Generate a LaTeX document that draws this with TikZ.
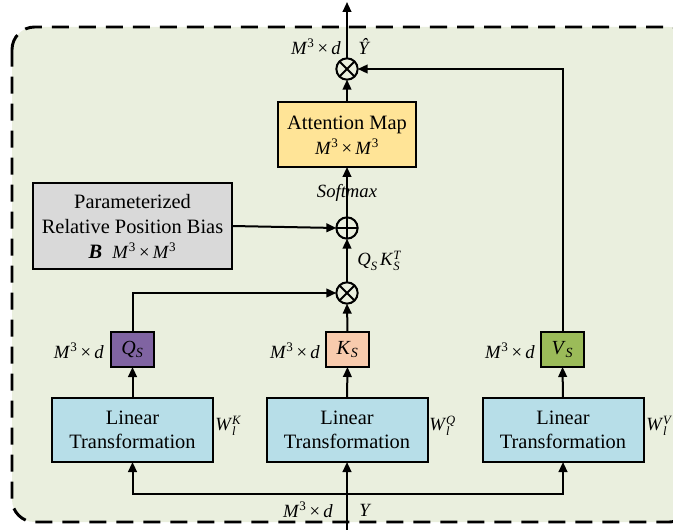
\documentclass[tikz,border=0pt]{standalone}
\usepackage{fontspec}
\setmainfont{Liberation Serif}
\usetikzlibrary{arrows.meta}

\definecolor{panel}{HTML}{EAEFDE}
\definecolor{attnfill}{HTML}{FFE497}
\definecolor{biasfill}{HTML}{D9D9D9}
\definecolor{qfill}{HTML}{8064A2}
\definecolor{kfill}{HTML}{F8CBAD}
\definecolor{vfill}{HTML}{9BBB59}
\definecolor{linfill}{HTML}{B7DEE8}

% italic math-like pieces set in the text font
\newcommand\Mcube{\textit{M}\textsuperscript{3}}
\newcommand\Md{\Mcube\,×\,\textit{d}}
\newcommand\scr{\fontsize{9.5}{10}\selectfont\itshape}
% base letter with a subscript and a superscript stacked above it
\newcommand\subsup[3]{\textit{#1}\rlap{\raisebox{4.4pt}{\scr #3}}\raisebox{-3.4pt}{\scr #2}}
\newcommand\Wsub[1]{\subsup{W}{l}{#1}}

\begin{document}
\begin{tikzpicture}[x=0.75pt,y=-0.75pt,
  boxbase/.style={draw, line width=1.5pt, inner sep=0pt, outer sep=0pt, align=center},
  linbox/.style={boxbase, fill=linfill, minimum width=120.75pt, minimum height=48pt,
    font=\fontsize{15.3}{18}\selectfont},
  smallbox/.style={boxbase, minimum width=32.25pt, minimum height=26.25pt,
    font=\fontsize{15}{18}\selectfont},
  lab/.style={inner sep=0pt, font=\fontsize{14}{16}\selectfont},
  arr/.style={-{Triangle[length=7.5pt,width=6.5pt]}, line width=1.5pt},
  opnode/.style={circle, draw, line width=1.5pt, minimum size=16pt, inner sep=0pt,
    outer sep=0pt, fill=panel},
  otimesnode/.style={opnode, path picture={
    \draw[line width=1.5pt] (path picture bounding box.north west) -- (path picture bounding box.south east)
      (path picture bounding box.north east) -- (path picture bounding box.south west);}},
  oplusnode/.style={opnode, path picture={
    \draw[line width=1.5pt] (path picture bounding box.north) -- (path picture bounding box.south)
      (path picture bounding box.west) -- (path picture bounding box.east);}},
  frame/.style={draw, fill=panel, line width=2.2pt, dash pattern=on 12.75pt off 7.5pt,
    rounded corners=17pt}
]
\useasboundingbox (0,0) rectangle (673,530);
\clip (0,0) rectangle (673,530);

% module frame
\draw[frame] (12,27) rectangle (692,522);

% linear projections
\node[linbox] (lk) at (132.5,430) {Linear\\Transformation};
\node[linbox] (lq) at (347,430) {Linear\\Transformation};
\node[linbox] (lv) at (563,430) {Linear\\Transformation};
\node[lab, anchor=west] (wk) at (215,426) {\Wsub{K}};
\node[lab, anchor=west] (wq) at (429,426) {\Wsub{Q}};
\node[lab, anchor=west] (wv) at (646,426) {\Wsub{V}};

% projected features
\node[smallbox, fill=qfill] (qs) at (132.5,349.5) {\textit{Q}\textsubscript{\textit{S}}};
\node[smallbox, fill=kfill] (ks) at (347.5,349.5) {\textit{K}\textsubscript{\textit{S}}};
\node[smallbox, fill=vfill] (vs) at (562.5,349.5) {\textit{V}\textsubscript{\textit{S}}};
\node[lab, anchor=east] (dq) at (104,351) {\Md};
\node[lab, anchor=east] (dk) at (320,351) {\Md};
\node[lab, anchor=east] (dv) at (535,351) {\Md};

% operators
\node[otimesnode] (m1) at (347,293) {};
\node[oplusnode] (pl) at (347,228) {};
\node[otimesnode] (m2) at (347,69) {};

% bias and attention map
\node[boxbase, fill=biasfill, minimum width=149.25pt, minimum height=64.5pt] (bias) at (132.5,226) {};
\node[inner sep=0pt, align=center, font=\fontsize{15.3}{18.75}\selectfont] (biastxt) at (132.5,226)
  {Parameterized\\Relative Position Bias\\{\textbf{\textit{B}}\enspace\fontsize{14}{16}\selectfont\Mcube\,×\,\Mcube}};
\node[boxbase, fill=attnfill, minimum width=103.5pt, minimum height=48.75pt] (attn) at (347,134.5) {};
\node[inner sep=0pt, align=center, font=\fontsize{15.3}{18}\selectfont] (attntxt) at (347,135)
  {Attention Map\\[1pt]{\fontsize{14}{16}\selectfont\Mcube\,×\,\Mcube}};

\node[lab, font=\fontsize{14}{16}\selectfont\itshape] (sm) at (347,193) {Softmax};
\node[lab, anchor=west] (qk) at (357,261)
  {\textit{Q}\raisebox{-3.4pt}{\scr S}\,\subsup{K}{S}{T}};

% input and output labels
\node[lab, anchor=east] (din) at (333,510) {\Md};
\node[lab, anchor=west] (yin) at (359,510) {\textit{Y}};
\node[lab, anchor=east] (dout) at (341,47) {\Md};
\node[lab, anchor=west] (yout) at (358,46) {\textit{\^{Y}}};

% end points of the input and output lines
\coordinate (src) at (347,530);
\coordinate (split) at (347,494);
\coordinate (dst) at (347,2);

% connectors
\draw[arr] (src) -- (lq.south);
\draw[arr] (split) -| (lk.south);
\draw[arr] (split) -| (lv.south);
\draw[arr] (lk.north) -- (qs.south);
\draw[arr] (lq.north) -- (ks.south);
\draw[arr] (lv.north) -- (vs.south);
\draw[arr] (qs.north) |- (m1.west);
\draw[arr] (ks.north) -- (m1.south);
\draw[arr] (m1.north) -- (pl.south);
\draw[arr] (bias.east) -- (pl.west);
\draw[arr] (pl.north) -- (attn.south);
\draw[arr] (attn.north) -- (m2.south);
\draw[arr] (vs.north) |- (m2.east);
\draw[arr] (m2.north) -- (dst);
\end{tikzpicture}
\end{document}
